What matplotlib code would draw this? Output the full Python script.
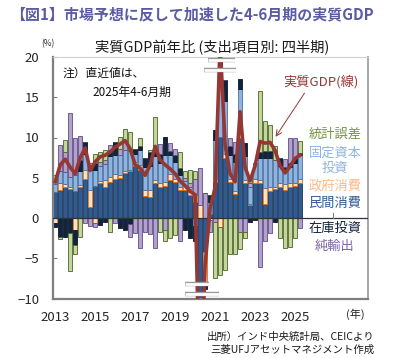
import numpy as np
import matplotlib
matplotlib.use("Agg")
from matplotlib import pyplot as plt

plt.rcParams['font.family'] = ['Noto Sans CJK JP', 'DejaVu Sans']

# quarters 2013Q1 .. 2025Q2
years = [2013, 2015, 2017, 2019, 2021, 2023, 2025]

gdp = [4.5, 6.6, 7.3, 6.3, 5.5, 7.5, 8.7, 5.9, 7.0, 7.6, 7.8, 8.2, 8.8, 9.2, 9.6, 8.6,
       6.6, 6.2, 5.3, 6.6, 8.9, 7.2, 6.6, 6.1, 5.5, 4.6, 4.0, 3.3, 2.9, -23.9, -5.8, 1.2,
       3.8, 21.6, 9.1, 5.5, 4.5, 13.2, 6.3, 4.6, 6.5, 9.5, 9.3, 9.4, 8.4, 6.5, 5.6, 6.4,
       7.4, 7.8]

private_cons = [3.2, 3.5, 3.8, 3.6, 3.4, 3.8, 4.8, 1.4, 4.0, 4.3, 3.9, 4.5, 4.9, 5.0, 5.6, 5.8,
                6.4, 6.0, 2.7, 2.6, 4.3, 3.8, 4.0, 4.7, 4.5, 3.5, 3.5, 2.8, 2.0, -15.0, -4.2, 0.5,
                4.5, 10.1, 7.5, 4.5, 3.0, 10.0, 4.3, 1.6, 4.3, 4.3, 1.8, 3.4, 3.6, 3.8, 3.5, 3.8,
                4.0, 4.3]
gov_cons = [-0.6, 0.8, 0.4, 0.3, -1.5, 0.3, 1.2, 2.1, -0.6, 0.3, 0.8, 0.6, 0.6, 0.4, 0.3, 0.2,
            0.6, 0.6, 0.8, 0.9, 0.4, 0.5, 0.5, 0.8, 0.3, 0.4, 0.5, 0.8, 0.8, 1.6, -3.8, -0.3,
            0.4, -1.1, 0.5, 0.3, 0.4, 0.5, 0.4, 0.2, 0.5, 0.4, 1.9, 0.4, 0.3, 0.5, 0.7, 0.5,
            0.4, 0.5]
fixed_inv = [1.0, 1.5, 1.5, 1.2, 2.0, 1.8, 2.0, 2.5, 2.0, 1.8, 2.0, 2.6, 2.3, 2.4, 2.6, 2.3,
             1.0, 1.8, 2.8, 3.0, 3.0, 2.5, 3.3, 2.3, 2.2, 1.5, 0.6, 0.2, -1.0, -11.0, -0.5, 1.5,
             4.8, 7.5, 6.5, 3.0, 3.5, 5.5, 3.0, 2.0, 2.0, 2.8, 3.8, 3.7, 3.3, 2.1, 1.6, 2.0,
             2.4, 3.0]
inventory = [-0.5, -2.3, -2.4, -1.9, -1.9, 1.3, 1.4, 0.5, 0.8, -0.9, -0.5, 0.8, 1.6, -1.3, -1.5, -0.8,
             0.6, 0.5, 1.2, 1.7, 1.0, 1.2, 2.2, 0.5, 0.8, 0.8, -1.5, -2.5, -1.9, -1.0, -0.3, 0.8,
             1.2, 3.0, 2.6, 1.2, 1.0, 1.3, 1.6, -0.5, -0.3, 0.7, 0.8, 0.8, -0.5, 1.0, 0.5, 0.5,
             0.7, 0.3]
net_exports = [0.3, 3.3, 2.5, 8.0, 4.5, 3.0, -0.6, -1.0, -0.5, 0.6, 0.5, 0.6, -0.6, 0.8, 0.9, -1.5,
               -1.9, -3.7, -1.7, -2.0, -3.7, 1.2, -1.5, 1.0, 0.8, -2.9, 0.4, 0.5, 2.0, 4.6, 3.1, -1.5,
               -0.5, 2.5, 0.0, 1.0, 1.5, -1.7, -1.7, 0.5, 0.0, -6.1, -2.9, -1.9, 0.0, 0.0, 1.0, 3.2,
               2.5, -1.3]
stat_disc = [0.8, -0.3, 1.5, -4.7, -1.1, -2.3, 0.0, 0.3, 1.1, 1.2, 1.2, -1.7, 0.0, 1.4, 1.6, 2.4,
             0.0, 1.0, 0.0, 0.3, 3.9, -1.7, -1.4, -2.5, -2.1, 2.0, 0.8, 1.7, 1.0, -3.0, 0.0, 0.0,
             -7.0, -6.0, -6.5, -4.5, -4.5, -2.1, -0.8, 0.8, 0.0, 7.6, 3.7, 3.3, 1.7, -2.5, -3.7, -3.6,
             -2.5, 1.5]

components = [
    (private_cons, '#2f5b92', '#1b3658'),
    (gov_cons, '#fde3cc', '#e46c0a'),
    (fixed_inv, '#8db4e2', '#4d6f9a'),
    (inventory, '#10243e', '#0a1628'),
    (net_exports, '#b3a2c7', '#5f4b8b'),
    (stat_disc, '#c3d69b', '#4f6228'),
]

W, H = 406, 358
fig = plt.figure(figsize=(W / 100, H / 100), dpi=100)
ax = fig.add_axes([53 / W, 1 - 298.5 / H, (368 - 53) / W, (298.5 - 57) / H])

x = np.arange(len(gdp))
pos_bottom = np.zeros(len(x))
neg_bottom = np.zeros(len(x))
for vals, fc, ec in components:
    v = np.array(vals)
    bottom = np.where(v >= 0, pos_bottom, neg_bottom)
    ax.bar(x, v, bottom=bottom, width=0.84, color=fc, edgecolor=ec, linewidth=0.6, zorder=2)
    pos_bottom += np.where(v >= 0, v, 0)
    neg_bottom += np.where(v < 0, v, 0)

ax.axhline(0, color='#333333', lw=0.9, zorder=3)
ax.plot([55.6, 55.6], [0, 0.6], color='#808080', lw=0.8, zorder=3)
ax.plot(x, gdp, color='#953735', lw=2.6, zorder=4, solid_joinstyle='round')

# axis break marks
for y0, x0, x1 in [(19.6, 30.5, 36.0), (18.4, 29.8, 36.2), (-8.2, 26.0, 30.7), (-9.4, 26.0, 32.7)]:
    ax.plot([x0, x1], [y0, y0], color='#9a9a9a', lw=3.2, zorder=5, solid_capstyle='butt')
    ax.plot([x0, x1], [y0, y0], color='white', lw=2.0, zorder=6, solid_capstyle='butt')

ax.set_xlim(-0.45, 62.6)
ax.set_ylim(-10, 20)
ax.set_yticks([-10, -5, 0, 5, 10, 15, 20])
ax.set_xticks([(y - 2013) * 4 for y in years])
ax.set_xticklabels([str(y) for y in years])
ax.tick_params(axis='y', direction='in', length=3, color='#808080', pad=10,
               labelsize=9.5, labelcolor='#262626')
ax.tick_params(axis='x', length=0, pad=9, labelsize=9.5, labelcolor='#262626')
for side in ['left', 'bottom']:
    ax.spines[side].set_color('#7f7f7f')
    ax.spines[side].set_linewidth(1.6)
ax.spines['right'].set_color('#a6a6a6')
ax.spines['right'].set_linewidth(1.4)
ax.spines['top'].set_color('#d0d0d0')
ax.spines['top'].set_linewidth(0.8)


def px(xp, yp):
    return xp / W, 1 - yp / H


fig.text(*px(10, 14), '【図1】市場予想に反して加速した4-6月期の実質GDP', fontsize=10.8,
         fontweight='bold', color='#5a5aa5', va='center', ha='left')
fig.text(*px(212, 48), '実質GDP前年比 (支出項目別: 四半期)', fontsize=10.3,
         color='#1a1a1a', va='center', ha='center')
fig.text(*px(48, 44), '(%)', fontsize=6, color='#262626', va='center', ha='center')
fig.text(*px(63, 73), '注）直近値は、', fontsize=8.5, color='#111111', va='center', ha='left')
fig.text(*px(92, 92), '2025年4-6月期', fontsize=8.5, color='#111111', va='center', ha='left')

fig.text(*px(321, 82), '実質GDP(線)', fontsize=9.5, color='#953735', va='center', ha='center')
ax.annotate('', xy=(43.8, 9.8), xytext=(50.2, 15.8),
            arrowprops=dict(arrowstyle='->', color='#953735', lw=0.7), zorder=6)

legend_items = [
    ('統計誤差', 134, '#77933c'),
    ('固定資本', 153, '#8db4e2'),
    ('投資', 168, '#8db4e2'),
    ('政府消費', 186, '#fab98a'),
    ('民間消費', 204, '#2f5b92'),
    ('在庫投資', 228, '#10243e'),
    ('純輸出', 246, '#7a63a3'),
]
for label, yp, c in legend_items:
    fig.text(*px(335, yp), label, fontsize=9.5, color=c, va='center', ha='center')

fig.text(*px(355, 314), '(年)', fontsize=8, color='#262626', va='center', ha='center')
fig.text(*px(374, 337), '出所）インド中央統計局、CEICより', fontsize=7.5, color='#1a1a1a',
         va='center', ha='right')
fig.text(*px(374, 350), '三菱UFJアセットマネジメント作成', fontsize=7.5, color='#1a1a1a',
         va='center', ha='right')

plt.savefig('out.png', dpi=100)
